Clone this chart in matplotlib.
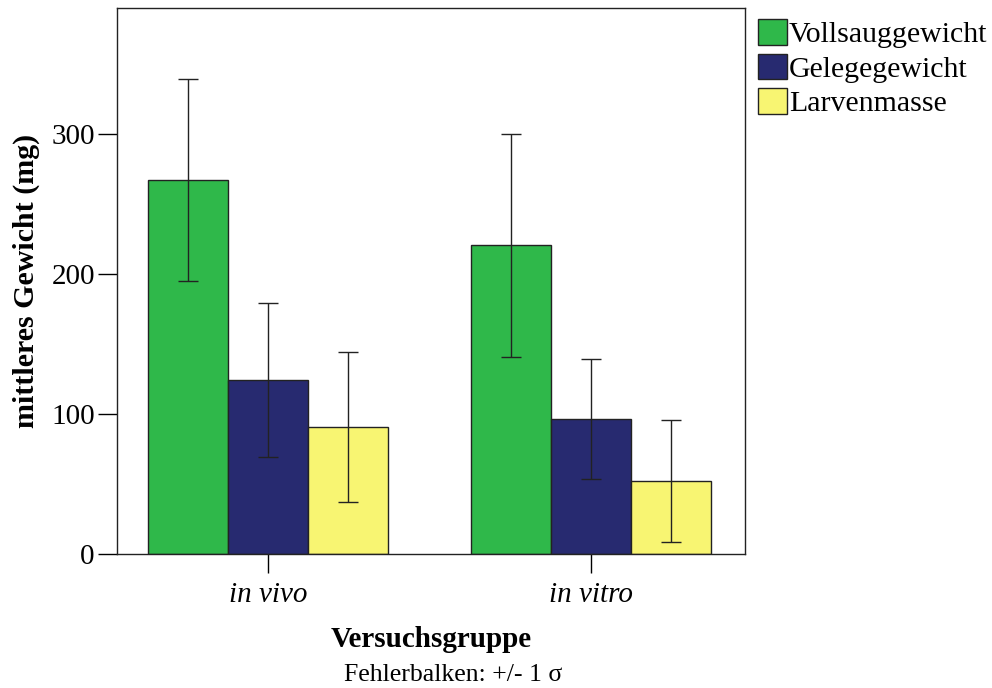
import matplotlib
matplotlib.use("Agg")
import matplotlib.pyplot as plt
import numpy as np

groups = ["in vivo", "in vitro"]
series = ["Vollsauggewicht", "Gelegegewicht", "Larvenmasse"]
means = {
    "Vollsauggewicht": [267, 220.5],
    "Gelegegewicht": [124, 96.5],
    "Larvenmasse": [90.5, 52],
}
sds = {
    "Vollsauggewicht": [72, 79.5],
    "Gelegegewicht": [55, 43],
    "Larvenmasse": [53.5, 43.5],
}
colors = ["#2fb84a", "#272a70", "#f8f572"]
yticks = [0, 100, 200, 300]

plt.rcParams['font.family'] = ['Liberation Serif', 'DejaVu Serif']

fig = plt.figure(figsize=(9.92, 6.88), dpi=100)
ax = fig.add_axes([117/992, 1-554/688, (745-117)/992, (554-8)/688])

x = np.arange(len(groups))
w = 0.2477
for i, s in enumerate(series):
    pos = x + (i - 1) * w
    ax.bar(pos, means[s], width=w, color=colors[i], edgecolor="#222222",
           linewidth=1.0, label=s, zorder=2)
    ax.errorbar(pos, means[s], yerr=sds[s], fmt="none", ecolor="#222222",
                elinewidth=1.0, capsize=7.2, capthick=1.0, zorder=3)

ax.set_xlim(-0.4675, 1.4768)
ax.set_ylim(0, 390)
ax.set_yticks(yticks)
ax.set_yticklabels([str(t) for t in yticks], fontsize=21)
ax.set_xticks(x)
ax.set_xticklabels(groups, fontsize=21, style="italic")
ax.tick_params(axis="y", length=14, width=1.0, pad=2)
ax.tick_params(axis="x", length=14, width=1.0, pad=6)
for sp in ax.spines.values():
    sp.set_linewidth(1.0)
    sp.set_color("#222222")

ax.set_ylabel("mittleres Gewicht (mg)", fontsize=21.6, fontweight="bold", labelpad=8)
ax.set_xlabel("Versuchsgruppe", fontsize=21, fontweight="bold", labelpad=13)
fig.text(453/992, 1-675/688, "Fehlerbalken: +/- 1 σ", fontsize=18.5,
         ha="center", va="center")

leg = ax.legend(loc="upper left", bbox_to_anchor=(758/992, 1-19/688),
                bbox_transform=fig.transFigure, frameon=False,
                fontsize=21.5, handlelength=0.97, handleheight=0.95,
                handletextpad=0.07, labelspacing=0.18, borderaxespad=0,
                borderpad=0)

fig.savefig("out.png", dpi=100)
